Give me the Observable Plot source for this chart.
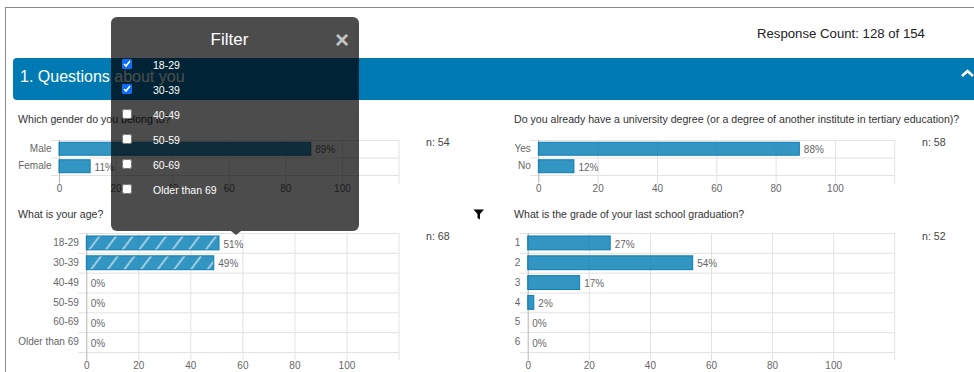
<!DOCTYPE html>
<html>
<head>
<meta charset="utf-8">
<script src="https://cdn.jsdelivr.net/npm/d3@7"></script>
<script src="https://cdn.jsdelivr.net/npm/@observablehq/plot@0.6"></script>
<style>
  html, body { margin: 0; background: #fff; }
  #page { position: relative; width: 974px; height: 372px; overflow: hidden; font-family: "Liberation Sans", Arial, sans-serif; color: #333; }
  #frame { position: absolute; left: 5px; top: 7px; width: 1000px; height: 400px; border: 1.5px solid #8a8a8a; box-sizing: border-box; }
  #count { position: absolute; left: 757px; top: 27px; font-size: 13.2px; line-height: 14px; color: #222; white-space: nowrap; }
  #banner { position: absolute; left: 13px; top: 57.5px; width: 970px; height: 42.5px; background: #007ab3; border-radius: 4px; color: #fff; }
  #banner span { position: absolute; left: 7px; top: 9px; font-size: 16px; line-height: 19px; white-space: nowrap; }
  .question, .count-n { position: absolute; font-size: 10.6px; line-height: 12px; white-space: nowrap; color: #333; }
  .count-n { color: #444; }
  svg.chart { position: absolute; overflow: visible; }
  #popover { position: absolute; left: 111px; top: 17px; width: 248px; height: 214px; background: rgba(0,0,0,.7); border-radius: 6px; color: #fff; }
  #popover .title { position: absolute; left: 0; width: 237px; top: 12.5px; text-align: center; font-size: 17px; line-height: 19px; }
  #popover .close { position: absolute; left: 224px; top: 10px; font-size: 24px; line-height: 26px; font-weight: bold; color: #c4c4c4; }
  #popover label { position: absolute; left: 42px; font-size: 10.5px; line-height: 12px; white-space: nowrap; }
  #popover input { position: absolute; left: 11px; width: 10px; height: 10px; margin: 0; accent-color: #0b6cf5; }
  #arrow { position: absolute; left: 231px; top: 231px; width: 0; height: 0; border-left: 5px solid transparent; border-right: 5px solid transparent; border-top: 4px solid rgba(0,0,0,.7); }
  #funnel, #chevron { position: absolute; }
</style>
</head>
<body>
<div id="page">
  <div id="frame"></div>
  <div id="count">Response Count: 128 of 154</div>
  <div id="banner"><span>1. Questions about you</span></div>
  <svg id="chevron" style="left:960px;top:68px" width="14" height="10"><polyline points="2,8 7.5,3 13,8" fill="none" stroke="#fff" stroke-width="2.6"/></svg>
  <svg id="funnel" style="left:473px;top:209px" width="12" height="11"><path d="M0.5 0.5H11L7 5V10.5L4.5 9V5Z" fill="#000"/></svg>
</div>
<script>
  // Survey results, in percent of respondents
  const genderLabels = ["Male", "Female"];
  const genderValues = [89, 11];
  const degreeLabels = ["Yes", "No"];
  const degreeValues = [88, 12];
  const ageLabels = ["18-29", "30-39", "40-49", "50-59", "60-69", "Older than 69"];
  const ageValues = [51, 49, 0, 0, 0, 0];
  const gradeLabels = ["1", "2", "3", "4", "5", "6"];
  const gradeValues = [27, 54, 17, 2, 0, 0];
  const xTicks = [0, 20, 40, 60, 80, 100, 120];
  const filterOptions = ["18-29", "30-39", "40-49", "50-59", "60-69", "Older than 69"];
  const filterChecked = [true, true, false, false, false, false];

  const questions = [
    {text: "Which gender do you belong to?", left: 18, top: 113},
    {text: "Do you already have a university degree (or a degree of another institute in tertiary education)?", left: 514, top: 113},
    {text: "What is your age?", left: 18, top: 208},
    {text: "What is the grade of your last school graduation?", left: 514, top: 208}
  ];
  const counts = [
    {text: "n: 54", left: 426, top: 136},
    {text: "n: 58", left: 922, top: 136},
    {text: "n: 68", left: 426, top: 230},
    {text: "n: 52", left: 922, top: 230}
  ];

  const page = document.getElementById("page");
  const addDiv = (cls, d) => {
    const el = document.createElement("div");
    el.className = cls;
    el.textContent = d.text;
    el.style.left = d.left + "px";
    el.style.top = d.top + "px";
    page.appendChild(el);
  };
  questions.forEach((q) => addDiv("question", q));
  counts.forEach((c) => addDiv("count-n", c));

  const grid = "#e2e2e2";
  const barFill = "rgba(0,122,179,0.8)";
  const barStroke = "#0c7eb4";

  // Diagonal stripes that flag the answers chosen in the filter
  const hatchDefs = () => {
    const ns = "http://www.w3.org/2000/svg";
    const defs = document.createElementNS(ns, "defs");
    defs.innerHTML = `<pattern id="hatch" patternUnits="userSpaceOnUse" width="13.3" height="12" patternTransform="rotate(37)">
      <rect width="13.3" height="12" fill="${barFill}"></rect>
      <line x1="4" y1="0" x2="4" y2="12" stroke="rgba(255,255,255,0.62)" stroke-width="1.7"></line>
    </pattern>`;
    return defs;
  };

  function barChart({labels, values, left, x0, x1, top, bottom, hatch, barPad}) {
    const n = labels.length;
    const rows = labels.map((label, i) => ({label, value: values[i], i}));
    const boundaries = d3.range(n + 1);
    const marginTop = 4;
    const marginBottom = 24;
    return Plot.plot({
      className: "chart",
      width: x1 - left + 6,
      height: bottom - top + marginTop + marginBottom,
      marginLeft: x0 - left,
      marginRight: 6,
      marginTop,
      marginBottom,
      style: {
        position: "absolute",
        left: left + "px",
        top: top - marginTop + "px",
        fontFamily: "'Liberation Sans', Arial, sans-serif",
        fontSize: "10px",
        background: "transparent",
        overflow: "visible"
      },
      x: {domain: [0, 120], axis: null},
      y: {domain: [0, n], reverse: true, axis: null},
      marks: [
        hatch ? hatchDefs : null,
        Plot.ruleY(boundaries, {y: (d) => d, x1: 0, x2: 120, insetLeft: -8, stroke: grid}),
        Plot.ruleX(xTicks, {x: (d) => d, y1: 0, y2: n, insetBottom: -8.5, stroke: (d) => (d === 0 ? "#b5b5b5" : grid)}),
        Plot.rectX(rows, {
          x1: 0,
          x2: "value",
          y1: (d) => d.i + barPad,
          y2: (d) => d.i + 1 - barPad,
          fill: hatch ? "url(#hatch)" : barFill,
          stroke: (d) => (d.value > 0 ? barStroke : "none")
        }),
        Plot.text(rows, {
          x: "value",
          y: (d) => d.i + 0.5,
          text: (d) => `${d.value}%`,
          dx: 4,
          dy: 1,
          textAnchor: "start",
          fill: "#666"
        }),
        Plot.text(rows, {
          x: 0,
          y: (d) => d.i + 0.5,
          text: "label",
          dx: -8,
          dy: -0.5,
          textAnchor: "end",
          fill: "#666"
        }),
        Plot.text(xTicks.slice(0, -1), {
          x: (d) => d,
          y: n,
          text: (d) => String(d),
          dy: 13,
          fill: "#666"
        })
      ]
    });
  }

  const charts = [
    {labels: genderLabels, values: genderValues, left: 0, x0: 59, x1: 398.5, top: 139.5, bottom: 174.5, barPad: 0.13},
    {labels: degreeLabels, values: degreeValues, left: 490, x0: 538.3, x1: 894.3, top: 139.5, bottom: 174.5, barPad: 0.13},
    {labels: ageLabels, values: ageValues, left: 0, x0: 86.3, x1: 398.5, top: 233.3, bottom: 352.3, barPad: 0.15, hatch: true},
    {labels: gradeLabels, values: gradeValues, left: 490, x0: 527.7, x1: 894.3, top: 233.3, bottom: 352.3, barPad: 0.15}
  ];
  charts.forEach((c) => page.appendChild(barChart(c)));

  // Filter popover sitting above the age question
  const pop = document.createElement("div");
  pop.id = "popover";
  pop.innerHTML = `<div class="title">Filter</div><div class="close">×</div>`;
  filterOptions.forEach((opt, i) => {
    const box = document.createElement("input");
    box.type = "checkbox";
    box.checked = filterChecked[i];
    box.style.top = 41.5 + i * 25 + "px";
    pop.appendChild(box);
    const lab = document.createElement("label");
    lab.textContent = opt;
    lab.style.top = 42 + i * 25 + "px";
    pop.appendChild(lab);
  });
  page.appendChild(pop);
  const arrow = document.createElement("div");
  arrow.id = "arrow";
  page.appendChild(arrow);
</script>
</body>
</html>
